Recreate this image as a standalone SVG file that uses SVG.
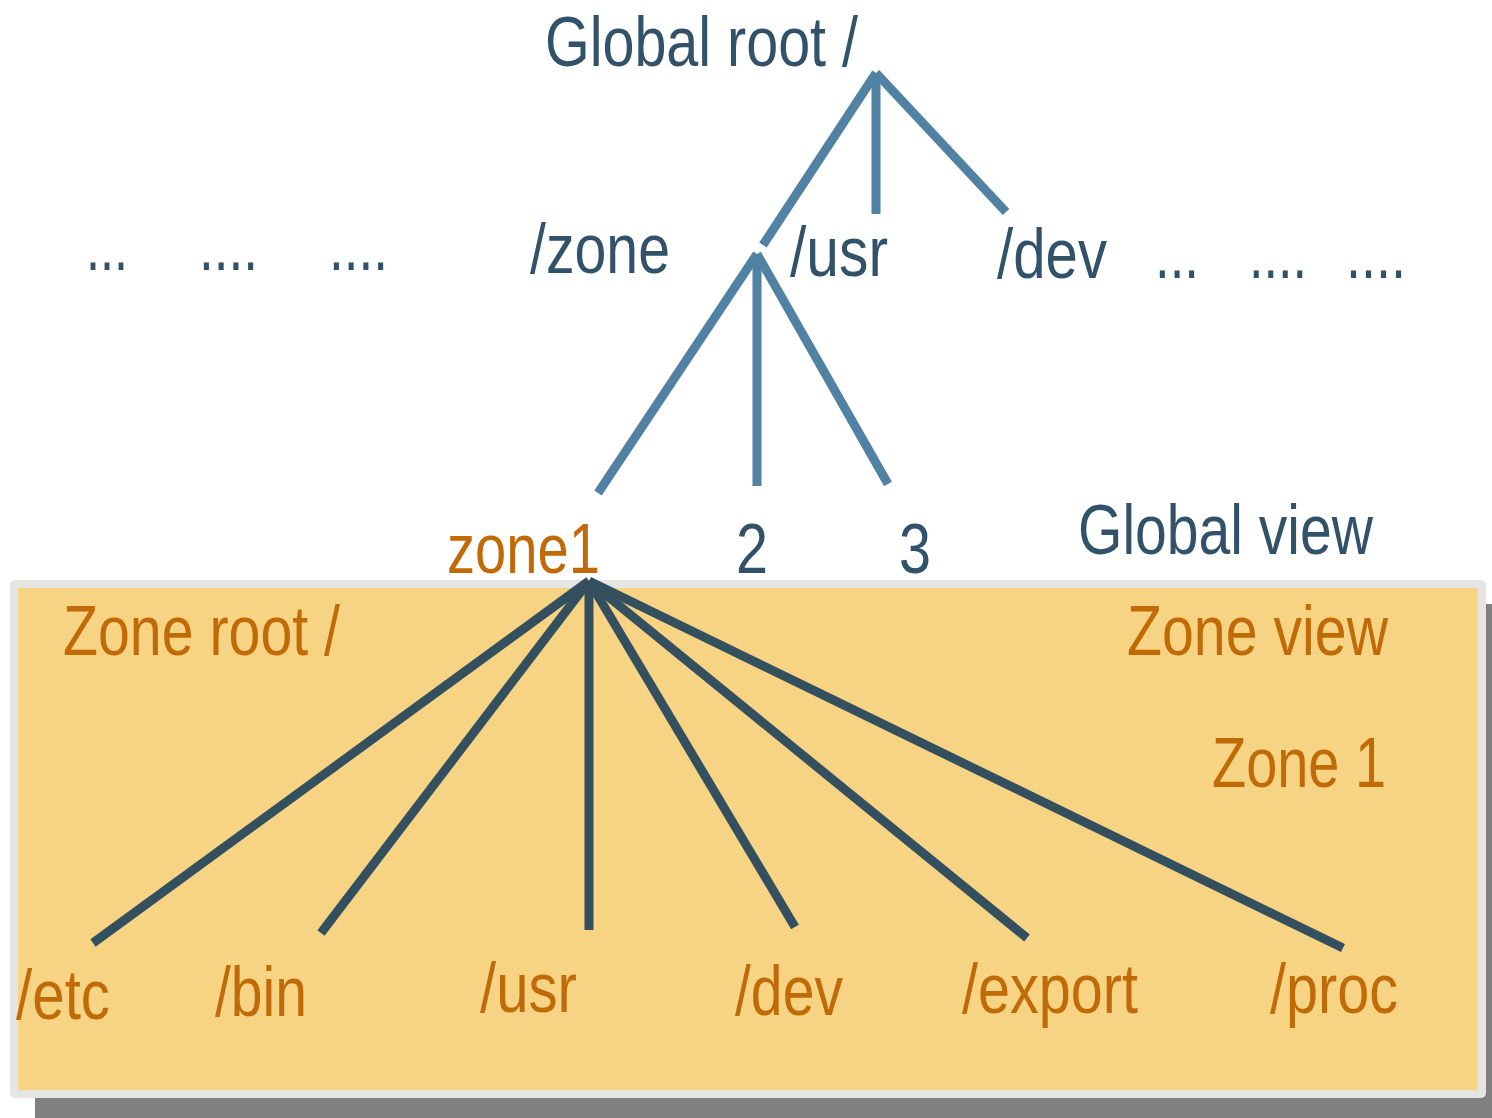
<svg xmlns="http://www.w3.org/2000/svg" width="1492" height="1118" viewBox="0 0 1492 1118">
<style>
text{font-family:"Liberation Sans",Arial,sans-serif;font-size:70px}
.b{fill:#315269}
.o{fill:#c16a08}
.lt{stroke:#5182a3;stroke-width:9;stroke-linecap:butt;fill:none}
.dk{stroke:#34505f;stroke-width:9;stroke-linecap:butt;fill:none}
</style>
<rect width="1492" height="1118" fill="#ffffff"/>
<g id="zone-box">
<rect x="35" y="604" width="1470" height="530" fill="#808080"/>
<rect x="10" y="580" width="1476" height="518" rx="5" fill="#e5e5e3"/>
<rect x="18" y="588" width="1460" height="502" fill="#f6d484"/>
</g>
<g id="connectors">
<line class="lt" x1="876" y1="73" x2="763" y2="245"/>
<line class="lt" x1="876" y1="73" x2="876" y2="214"/>
<line class="lt" x1="876" y1="73" x2="1006" y2="212"/>
<line class="lt" x1="757" y1="254" x2="598" y2="493"/>
<line class="lt" x1="757" y1="254" x2="757" y2="486"/>
<line class="lt" x1="757" y1="254" x2="888" y2="484"/>
<line class="dk" x1="589" y1="581" x2="93" y2="943"/>
<line class="dk" x1="589" y1="581" x2="321" y2="933"/>
<line class="dk" x1="589" y1="581" x2="589" y2="930"/>
<line class="dk" x1="589" y1="581" x2="795" y2="927"/>
<line class="dk" x1="589" y1="581" x2="1027" y2="938"/>
<line class="dk" x1="589" y1="581" x2="1343" y2="948"/>
</g>
<g id="global-root"><text class="b" x="545" y="66" textLength="313" lengthAdjust="spacingAndGlyphs">Global root /</text></g>
<g id="dots-left">
<text class="b" x="86" y="270" textLength="42" lengthAdjust="spacingAndGlyphs">...</text>
<text class="b" x="199" y="270" textLength="59" lengthAdjust="spacingAndGlyphs">....</text>
<text class="b" x="329" y="270" textLength="59" lengthAdjust="spacingAndGlyphs">....</text>
</g>
<g id="zone-dir"><text class="b" x="530" y="273" textLength="140" lengthAdjust="spacingAndGlyphs">/zone</text></g>
<g id="usr-dir"><text class="b" x="790" y="276" textLength="98" lengthAdjust="spacingAndGlyphs">/usr</text></g>
<g id="dev-dir"><text class="b" x="997" y="278" textLength="110" lengthAdjust="spacingAndGlyphs">/dev</text></g>
<g id="dots-right">
<text class="b" x="1155" y="278" textLength="44" lengthAdjust="spacingAndGlyphs">...</text>
<text class="b" x="1249" y="278" textLength="58" lengthAdjust="spacingAndGlyphs">....</text>
<text class="b" x="1346" y="278" textLength="60" lengthAdjust="spacingAndGlyphs">....</text>
</g>
<g id="zone1"><text class="o" x="447" y="573" textLength="153" lengthAdjust="spacingAndGlyphs">zone1</text></g>
<g id="zone2"><text class="b" x="736" y="573" textLength="32" lengthAdjust="spacingAndGlyphs">2</text></g>
<g id="zone3"><text class="b" x="899" y="573" textLength="32" lengthAdjust="spacingAndGlyphs">3</text></g>
<g id="global-view"><text class="b" x="1078" y="554" textLength="295" lengthAdjust="spacingAndGlyphs">Global view</text></g>
<g id="zone-root"><text class="o" x="63" y="655" textLength="277" lengthAdjust="spacingAndGlyphs">Zone root /</text></g>
<g id="zone-view"><text class="o" x="1127" y="655" textLength="261" lengthAdjust="spacingAndGlyphs">Zone view</text></g>
<g id="zone-1-label"><text class="o" x="1212" y="787" textLength="174" lengthAdjust="spacingAndGlyphs">Zone 1</text></g>
<g id="etc"><text class="o" x="16" y="1019" textLength="94" lengthAdjust="spacingAndGlyphs">/etc</text></g>
<g id="bin"><text class="o" x="215" y="1016" textLength="92" lengthAdjust="spacingAndGlyphs">/bin</text></g>
<g id="zusr"><text class="o" x="480" y="1012" textLength="97" lengthAdjust="spacingAndGlyphs">/usr</text></g>
<g id="zdev"><text class="o" x="735" y="1015" textLength="108" lengthAdjust="spacingAndGlyphs">/dev</text></g>
<g id="export"><text class="o" x="962" y="1013" textLength="176" lengthAdjust="spacingAndGlyphs">/export</text></g>
<g id="proc"><text class="o" x="1270" y="1013" textLength="128" lengthAdjust="spacingAndGlyphs">/proc</text></g>
</svg>
